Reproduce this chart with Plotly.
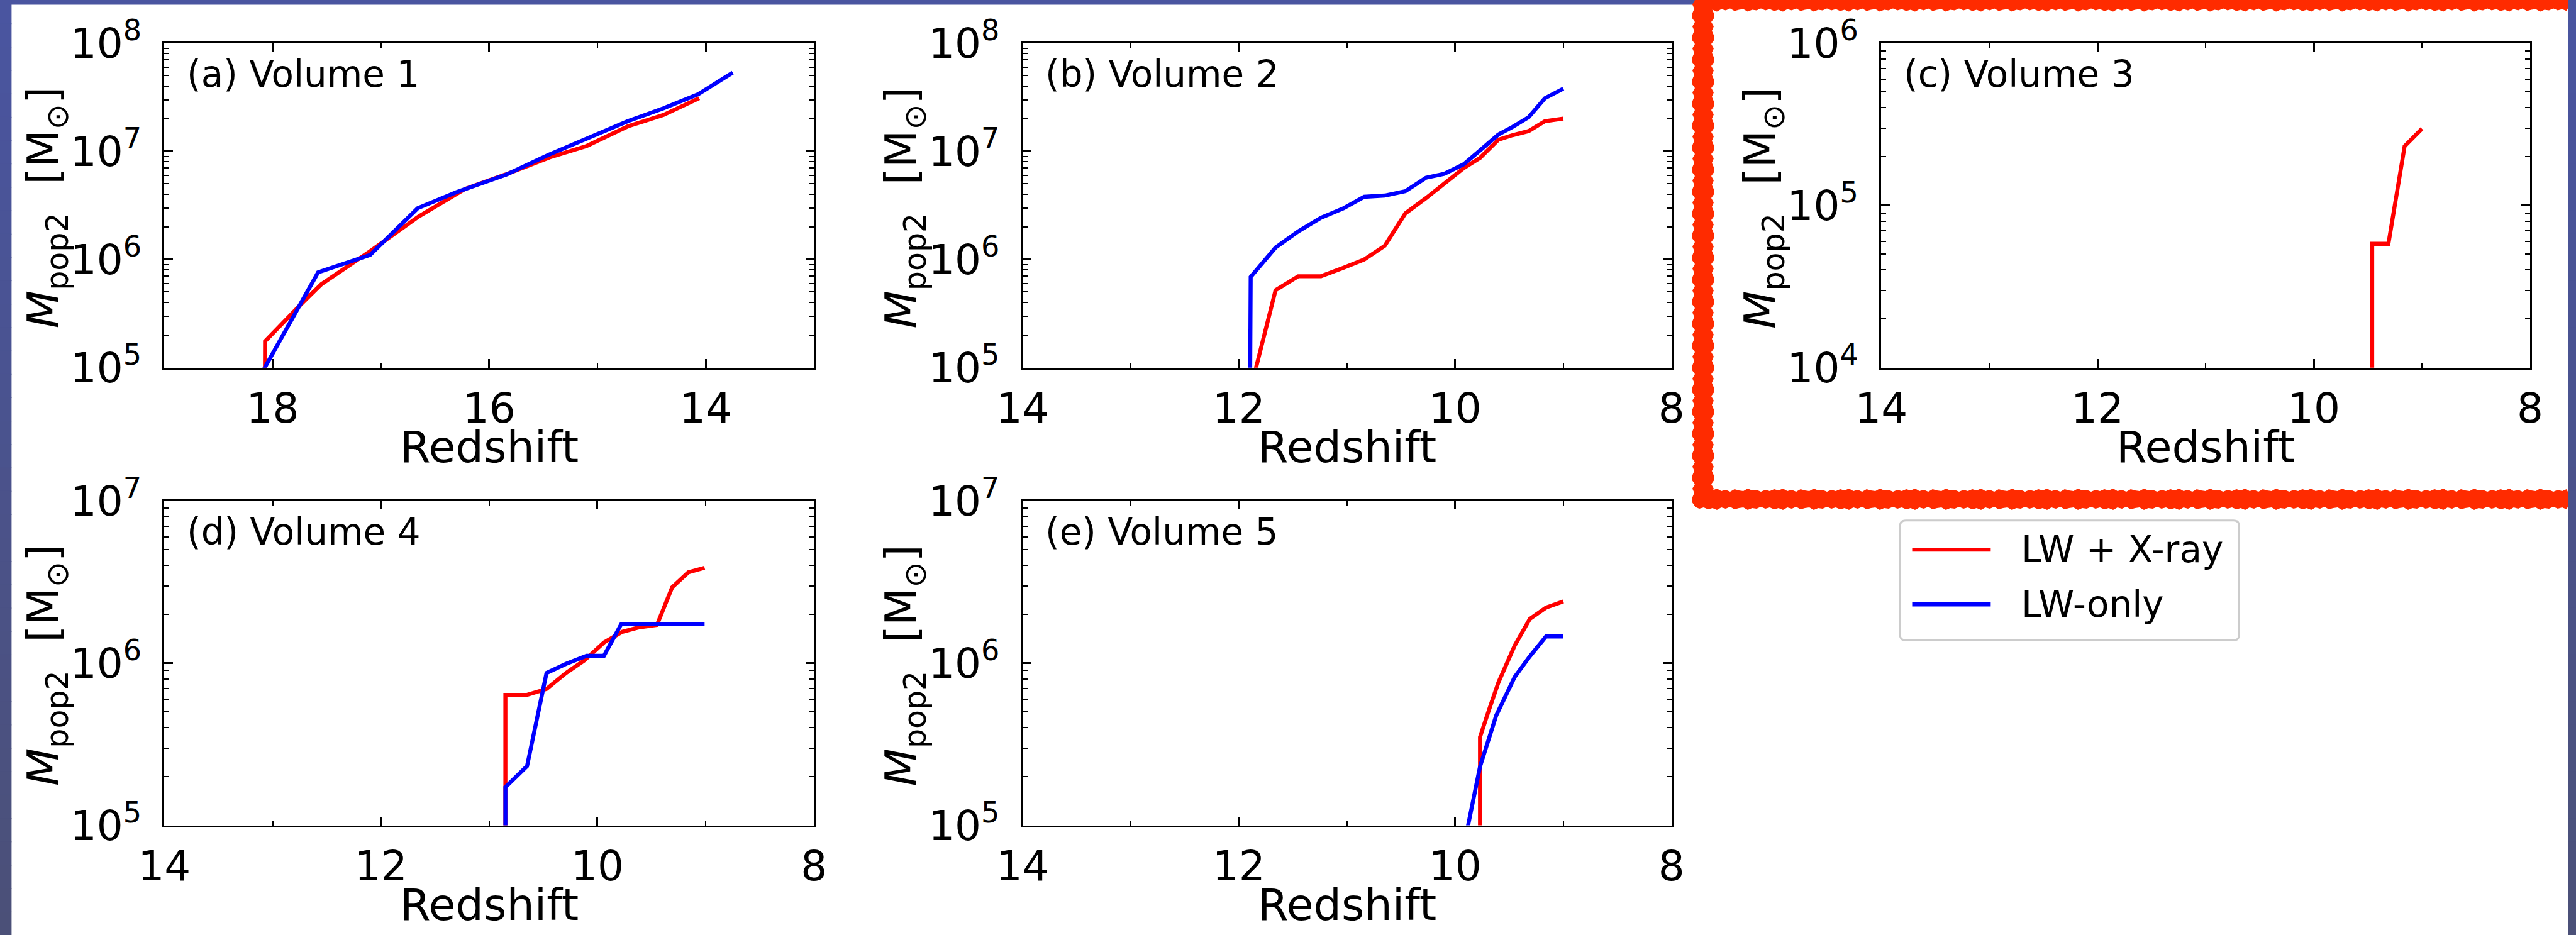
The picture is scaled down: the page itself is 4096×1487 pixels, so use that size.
import plotly.graph_objects as go

# ---------------------------------------------------------------
# Pop II stellar mass growth vs. redshift in five simulated volumes
# ---------------------------------------------------------------

# Volume 1
z_v1_xray = [18.08, 18.07, 17.75, 17.55, 17.10, 16.65, 16.22, 15.85, 15.44, 15.10, 14.72, 14.39, 14.06]
m_v1_xray = [1e2, 1.75e5, 3.75e5, 5.9e5, 1.19e6, 2.5e6, 4.5e6, 6.1e6, 8.8e6, 1.12e7, 1.7e7, 2.17e7, 3.1e7]
z_v1_lw = [18.09, 17.58, 17.10, 16.66, 16.30, 15.84, 15.45, 15.10, 14.72, 14.39, 14.07, 13.75]
m_v1_lw = [9.3e4, 7.6e5, 1.1e6, 2.98e6, 4.2e6, 6.1e6, 9.3e6, 1.31e7, 1.9e7, 2.5e7, 3.37e7, 5.35e7]

# Volume 2
z_v2_xray = [11.90, 11.66, 11.45, 11.24, 11.03, 10.84, 10.65, 10.46, 10.27, 10.10, 9.92, 9.77, 9.60, 9.47, 9.32, 9.17, 9.00]
m_v2_xray = [5.8e4, 5.2e5, 7.0e5, 7.0e5, 8.4e5, 1.0e6, 1.34e6, 2.67e6, 3.69e6, 5.1e6, 7.0e6, 8.7e6, 1.28e7, 1.41e7, 1.54e7, 1.9e7, 2.01e7]
z_v2_lw = [11.91, 11.89, 11.66, 11.45, 11.24, 11.03, 10.84, 10.65, 10.46, 10.27, 10.10, 9.92, 9.77, 9.60, 9.47, 9.32, 9.17, 9.00]
m_v2_lw = [1e2, 6.9e5, 1.29e6, 1.82e6, 2.43e6, 2.98e6, 3.8e6, 3.9e6, 4.28e6, 5.7e6, 6.2e6, 7.6e6, 1.02e7, 1.43e7, 1.68e7, 2.07e7, 3.1e7, 3.8e7]

# Volume 3 (only the LW + X-ray run forms Pop II stars)
z_v3_xray = [9.46, 9.46, 9.31, 9.16, 9.00]
m_v3_xray = [1e2, 5.8e4, 5.8e4, 2.32e5, 2.97e5]

# Volume 4
z_v4_xray = [10.85, 10.85, 10.65, 10.47, 10.29, 10.12, 9.94, 9.77, 9.62, 9.45, 9.31, 9.16, 9.01]
m_v4_xray = [1e2, 6.37e5, 6.37e5, 6.93e5, 8.7e5, 1.04e6, 1.34e6, 1.56e6, 1.66e6, 1.72e6, 2.93e6, 3.63e6, 3.87e6]
z_v4_lw = [10.85, 10.85, 10.65, 10.47, 10.29, 10.10, 9.94, 9.78, 9.62, 9.45, 9.31, 9.16, 9.01]
m_v4_lw = [1e2, 1.72e5, 2.32e5, 8.7e5, 9.9e5, 1.11e6, 1.11e6, 1.74e6, 1.74e6, 1.74e6, 1.74e6, 1.74e6, 1.74e6]

# Volume 5
z_v5_xray = [9.77, 9.77, 9.69, 9.60, 9.45, 9.31, 9.16, 9.00]
m_v5_xray = [1e2, 3.5e5, 5.08e5, 7.6e5, 1.28e6, 1.87e6, 2.2e6, 2.4e6]
z_v5_lw = [9.92, 9.77, 9.62, 9.45, 9.31, 9.16, 9.00]
m_v5_lw = [7.4e4, 2.3e5, 4.76e5, 8.2e5, 1.1e6, 1.46e6, 1.46e6]

panel_titles = ["(a) Volume 1", "(b) Volume 2", "(c) Volume 3", "(d) Volume 4", "(e) Volume 5"]
redshift_ranges = [[19, 13], [14, 8], [14, 8], [14, 8], [14, 8]]
mass_decades = [[5, 8], [5, 8], [4, 6], [5, 7], [5, 7]]
series_names = ["LW + X-ray", "LW-only"]

# ---------------------------------------------------------------
W, H = 4096, 1487
S = 0.968
FONT = "DejaVu Sans"
RED = "#ff0000"
BLUE = "#0000ff"

TICK_FONT = 66
LABEL_FONT = 70
TEXT_FONT = 58
LINE_W = 6.4

# panel boxes in pixels: (left, right, top, bottom)
col_lr = [(270 * S, 1337 * S), (1679.5 * S, 2745.6 * S), (3090 * S, 4156 * S)]
row_tb = [(71 * S, 604 * S), (823 * S, 1356 * S)]
boxes = [
    col_lr[0] + row_tb[0],
    col_lr[1] + row_tb[0],
    col_lr[2] + row_tb[0],
    col_lr[0] + row_tb[1],
    col_lr[1] + row_tb[1],
]

series = [
    [(z_v1_xray, m_v1_xray, RED), (z_v1_lw, m_v1_lw, BLUE)],
    [(z_v2_xray, m_v2_xray, RED), (z_v2_lw, m_v2_lw, BLUE)],
    [(z_v3_xray, m_v3_xray, RED)],
    [(z_v4_xray, m_v4_xray, RED), (z_v4_lw, m_v4_lw, BLUE)],
    [(z_v5_xray, m_v5_xray, RED), (z_v5_lw, m_v5_lw, BLUE)],
]


def fx(px):
    return px / W


def fy(py):
    return 1 - py / H


fig = go.Figure()
layout = dict(
    width=W, height=H,
    margin=dict(l=0, r=0, t=0, b=0, pad=0, autoexpand=False),
    paper_bgcolor="white", plot_bgcolor="white",
    showlegend=False,
    font=dict(family=FONT, color="black"),
)
annotations = []
shapes = []

for i, (box, title, xr, dec, ser) in enumerate(zip(boxes, panel_titles, redshift_ranges, mass_decades, series)):
    n = "" if i == 0 else str(i + 1)
    left, right, top, bottom = box
    for k, (zs, ms, col) in enumerate(ser):
        fig.add_trace(go.Scatter(
            x=zs, y=ms, mode="lines", name=series_names[0 if col == RED else 1],
            line=dict(color=col, width=LINE_W), xaxis="x" + n, yaxis="y" + n,
            hoverinfo="skip",
        ))
    major = [10.0 ** e for e in range(dec[0], dec[1] + 1)]
    minor = [k * 10.0 ** e for e in range(dec[0], dec[1]) for k in range(2, 10)]
    common = dict(
        showline=True, linecolor="black", linewidth=3.1, mirror="allticks",
        ticks="inside", ticklen=13.5, tickwidth=2.9, tickcolor="black",
        showgrid=False, zeroline=False, automargin=False,
        tickfont=dict(family=FONT, size=TICK_FONT, color="black"),
    )
    layout["xaxis" + n] = dict(
        common, domain=[fx(left), fx(right)], anchor="y" + n,
        range=xr, autorange=False, tickmode="linear", tick0=0, dtick=2,
        minor=dict(ticks="inside", ticklen=7.7, tickwidth=2.4, tickcolor="black", tickmode="linear", tick0=0, dtick=1),
        ticklabelstandoff=5,
    )
    layout["yaxis" + n] = dict(
        common, domain=[fy(bottom), fy(top)], anchor="x" + n, type="log",
        range=dec, autorange=False, tickmode="array", tickvals=major,
        ticktext=["10<sup>%d</sup>" % e for e in range(dec[0], dec[1] + 1)],
        minor=dict(ticks="inside", ticklen=7.7, tickwidth=2.4, tickcolor="black", tickmode="array", tickvals=minor),
        ticklabelstandoff=20,
    )
    # panel tag
    annotations.append(dict(
        text=title, xref="paper", yref="paper", x=fx(left + 35 * S), y=fy(top + 51 * S),
        xanchor="left", yanchor="middle", showarrow=False,
        font=dict(family=FONT, size=TEXT_FONT, color="black"),
    ))
    # axis titles
    annotations.append(dict(
        text="Redshift", xref="paper", yref="paper", x=fx((left + right) / 2), y=fy(bottom + 131 * S),
        xanchor="center", yanchor="middle", showarrow=False,
        font=dict(family=FONT, size=LABEL_FONT, color="black"),
    ))
    annotations.append(dict(
        text="<i>M</i><sub>pop2</sub>  [M<sub>\u2299</sub>]", xref="paper", yref="paper",
        x=fx(left - 194 * S), y=fy((top + bottom) / 2 + 4 * S), textangle=-90,
        xanchor="center", yanchor="middle", showarrow=False,
        font=dict(family=FONT, size=LABEL_FONT, color="black"),
    ))

# ---- legend (drawn by hand, boxed with rounded corners) ----
lg_l, lg_r, lg_t, lg_b = 3121 * S, 3678 * S, 855 * S, 1052 * S
rad = 9


def P(x, y):
    return "%.6f,%.6f" % (fx(x), fy(y))


legend_path = (
    "M " + P(lg_l + rad, lg_t) + " L " + P(lg_r - rad, lg_t) + " Q " + P(lg_r, lg_t) + " " + P(lg_r, lg_t + rad)
    + " L " + P(lg_r, lg_b - rad) + " Q " + P(lg_r, lg_b) + " " + P(lg_r - rad, lg_b)
    + " L " + P(lg_l + rad, lg_b) + " Q " + P(lg_l, lg_b) + " " + P(lg_l, lg_b - rad)
    + " L " + P(lg_l, lg_t + rad) + " Q " + P(lg_l, lg_t) + " " + P(lg_l + rad, lg_t) + " Z"
)
shapes.append(dict(type="path", xref="paper", yref="paper", path=legend_path,
                   line=dict(color="#cccccc", width=3), fillcolor="white", layer="above"))
for row_y, col, label in [(903 * S, RED, series_names[0]), (993 * S, BLUE, series_names[1])]:
    shapes.append(dict(type="line", xref="paper", yref="paper",
                       x0=fx(3141 * S), x1=fx(3270 * S), y0=fy(row_y), y1=fy(row_y),
                       line=dict(color=col, width=LINE_W), layer="above"))
    annotations.append(dict(
        text=label, xref="paper", yref="paper", x=fx(3318 * S), y=fy(row_y),
        xanchor="left", yanchor="middle", showarrow=False,
        font=dict(family=FONT, size=TEXT_FONT, color="black"),
    ))

# ---- page frame: blue border on left, top and right ----
c_top = (74, 85, 160)
c_bot = (75, 80, 120)
n_strips = 40


def frame_color(t):
    return "rgb(%d,%d,%d)" % tuple(round(a + (b - a) * t) for a, b in zip(c_top, c_bot))


shapes.append(dict(type="rect", xref="paper", yref="paper", x0=0, x1=1, y0=fy(7.5), y1=1,
                   line=dict(width=0), fillcolor=frame_color(0), layer="above"))
for j in range(n_strips):
    y0p, y1p = j * H / n_strips, (j + 1) * H / n_strips + 1
    shapes.append(dict(type="rect", xref="paper", yref="paper", x0=0, x1=fx(18.4),
                       y0=fy(y1p), y1=fy(y0p), line=dict(width=0),
                       fillcolor=frame_color(j / (n_strips - 1)), layer="above"))

# ---- red hand-drawn highlight around panel (c) ----
HL = "#ff2b00"
hl_l, hl_r = 2695.0, 4083.0
hl_top_band = 13.5
hl_bot_y0, hl_bot_y1 = 782.0, 806.0
rag = [0, 3, 1, 4, 2, 5, 1, 3, 0, 4, 2, 1, 5, 2, 3]


def ragged_h(x0, x1, y_edge, sign):
    pts = []
    x = x0
    k = 0
    while x <= x1:
        pts.append((x, y_edge + sign * rag[k % len(rag)]))
        x += 7
        k += 1
    pts.append((x1, y_edge))
    return pts


def ragged_v(y0, y1, x_edge, sign):
    pts = []
    y = y0
    k = 0
    while y <= y1:
        pts.append((x_edge + sign * rag[(k * 3) % len(rag)], y))
        y += 7
        k += 1
    pts.append((x_edge, y1))
    return pts


def poly(points):
    return "M " + " L ".join(P(x, y) for x, y in points) + " Z"


# top band
top_pts = [(hl_l, 0), (hl_r, 0)] + list(reversed(ragged_h(hl_l, hl_r, hl_top_band, 1)))
# bottom band
bot_pts = ragged_h(hl_l, hl_r, hl_bot_y0, -1) + list(reversed(ragged_h(hl_l, hl_r, hl_bot_y1, 1)))
# left band
left_pts = ragged_v(0, hl_bot_y1, hl_l, -1) + list(reversed(ragged_v(0, hl_bot_y1, hl_l + 26, 1)))
for pts in (top_pts, bot_pts, left_pts):
    shapes.append(dict(type="path", xref="paper", yref="paper", path=poly(pts),
                       line=dict(width=0), fillcolor=HL, layer="above"))

# right border, drawn over the highlight
for j in range(n_strips):
    y0p, y1p = j * H / n_strips, (j + 1) * H / n_strips + 1
    shapes.append(dict(type="rect", xref="paper", yref="paper", x0=fx(W - 12.6), x1=1,
                       y0=fy(y1p), y1=fy(y0p), line=dict(width=0),
                       fillcolor=frame_color(j / (n_strips - 1)), layer="above"))

layout["annotations"] = annotations
layout["shapes"] = shapes
fig.update_layout(**layout)
fig.write_html("out.html")
